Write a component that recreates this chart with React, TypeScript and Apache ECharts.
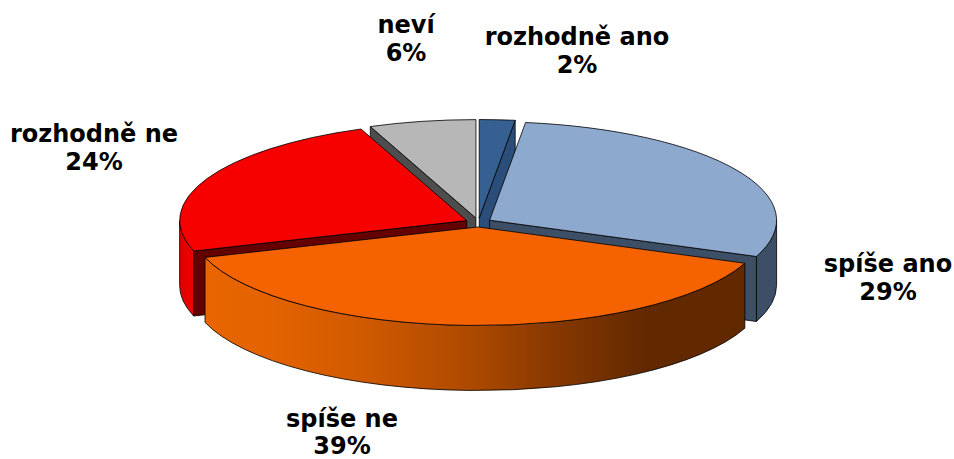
import React, { useEffect, useRef } from "react";
import * as echarts from "echarts";

const categories = ["rozhodně ano", "spíše ano", "spíše ne", "rozhodně ne", "neví"];
const values = [2, 29, 39, 24, 6];

const topColors = ["#366092", "#8EA9CE", "#F56300", "#F70000", "#B7B7B7"];
const cutColors = ["#2B4D7A", "#3D4F66", "#F56300", "#650000", "#4D4D4D"];
const outerStops: [number, string][][] = [
  [[0, "#2B4D7A"], [1, "#2B4D7A"]],
  [[0, "#3D4F66"], [1, "#3D4F66"]],
  [[0, "#E86500"], [0.12, "#E46300"], [0.3, "#CF5900"], [0.5, "#AB4900"], [0.65, "#863800"], [0.82, "#622800"], [1, "#622800"]],
  [[0, "#DD0000"], [1, "#F00000"]],
  [[0, "#4D4D4D"], [1, "#4D4D4D"]],
];
const labelCenters: [number, number][] = [
  [577, 51],
  [888, 278],
  [342, 432.5],
  [94, 148],
  [406, 39],
];

const CX = 478.4;
const CY = 222.5;
const RX = 287;
const RY = 98.5;
const DEPTH = 65;
const EXPLODE = 13;
const RAD = Math.PI / 180;

const total = values.reduce((a, b) => a + b, 0);
const starts: number[] = [];
values.reduce((acc, v, i) => {
  starts[i] = acc;
  return acc + (v / total) * 360;
}, 0);

function renderItem(params: any, api: any) {
  const i = params.dataIndex;
  const v = api.value(0);
  const a0 = starts[i];
  const a1 = a0 + (v / total) * 360;
  const mid = (a0 + a1) / 2;
  const ax = CX + EXPLODE * Math.sin(mid * RAD);
  const ay = CY - EXPLODE * Math.cos(mid * RAD) * (RY / RX);
  const pt = (deg: number, dy = 0): [number, number] => [
    ax + RX * Math.sin(deg * RAD),
    ay - RY * Math.cos(deg * RAD) + dy,
  ];
  const z = Math.round(200 - Math.abs(mid - 180));
  const line = { stroke: "#000", lineWidth: 0.8, lineJoin: "round" };
  const children: any[] = [];

  const lo = Math.max(a0, 90);
  const hi = Math.min(a1, 270);
  if (hi > lo) {
    const p0 = pt(lo);
    const p1 = pt(hi);
    const q1 = pt(hi, DEPTH);
    const q0 = pt(lo, DEPTH);
    children.push({
      type: "path",
      z2: z,
      shape: {
        pathData: `M${p0[0]} ${p0[1]}A${RX} ${RY} 0 0 1 ${p1[0]} ${p1[1]}L${q1[0]} ${q1[1]}A${RX} ${RY} 0 0 0 ${q0[0]} ${q0[1]}Z`,
      },
      style: {
        ...line,
        fill: { type: "linear", x: 0, y: 0, x2: 1, y2: 0, colorStops: outerStops[i].map(([offset, color]) => ({ offset, color })) },
      },
    });
  }

  const cutFaces: number[] = [];
  if (Math.cos((a0 - 90) * RAD) < -0.001) cutFaces.push(a0);
  if (Math.cos((a1 + 90) * RAD) < -0.001) cutFaces.push(a1);
  cutFaces.forEach((deg) => {
    const p = pt(deg);
    const q = pt(deg, DEPTH);
    children.push({
      type: "polygon",
      z2: z + 1,
      shape: { points: [[ax, ay], p, q, [ax, ay + DEPTH]] },
      style: { ...line, fill: cutColors[i] },
    });
  });

  const s = pt(a0);
  const e = pt(a1);
  const large = a1 - a0 > 180 ? 1 : 0;
  children.push({
    type: "path",
    z2: z + 2,
    shape: {
      pathData: `M${ax} ${ay}L${s[0]} ${s[1]}A${RX} ${RY} 0 ${large} 1 ${e[0]} ${e[1]}Z`,
    },
    style: { ...line, fill: topColors[i] },
  });

  children.push({
    type: "text",
    z2: 400,
    style: {
      x: labelCenters[i][0],
      y: labelCenters[i][1],
      text: `${categories[i]}\n${v}%`,
      fill: "#000",
      font: 'bold 24px "DejaVu Sans"',
      lineHeight: 27.5,
      align: "center",
      verticalAlign: "middle",
    },
  });

  return { type: "group", children };
}

export default function App() {
  const ref = useRef<HTMLDivElement>(null);
  useEffect(() => {
    const chart = echarts.init(ref.current!, null, { renderer: "svg" });
    chart.setOption({
      animation: false,
      backgroundColor: "#fff",
      series: [
        {
          type: "custom",
          coordinateSystem: "none",
          silent: true,
          clip: false,
          renderItem,
          data: values.map((v, i) => ({ name: categories[i], value: [v] })),
        },
      ],
    });
    return () => chart.dispose();
  }, []);
  return <div ref={ref} style={{ position: "absolute", left: 0, top: 0, width: 954, height: 459 }} />;
}
